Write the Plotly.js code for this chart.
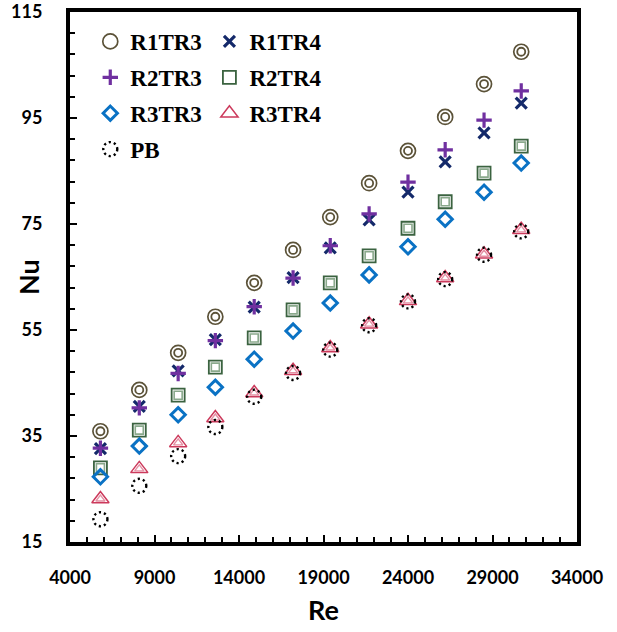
<!DOCTYPE html>
<html>
<head>
<meta charset="utf-8">
<script src="https://cdn.plot.ly/plotly-3.0.1.min.js"></script>
<style>html,body{margin:0;padding:0;background:#fff;}#chart{width:617px;height:632px;}</style>
</head>
<body>
<div id="chart"></div>
<script>
// Reynolds numbers (shared by all series)
const re = [5800, 8100, 10400, 12600, 14900, 17200, 19400, 21700, 24000, 26200, 28500, 30700];

// Nusselt numbers per configuration
const R1TR3 = [35.9, 43.7, 50.7, 57.5, 63.9, 70.1, 76.3, 82.7, 88.8, 95.2, 101.4, 107.5];
const R1TR4 = [32.6, 40.6, 47.3, 53.2, 59.3, 64.9, 70.5, 75.8, 81.0, 86.7, 92.2, 97.8];
const R2TR3 = [32.7, 40.3, 46.8, 53.0, 59.4, 64.8, 70.9, 76.9, 82.9, 89.0, 94.6, 100.1];
const R2TR4 = [29.0, 36.1, 42.7, 48.0, 53.5, 58.8, 63.9, 69.0, 74.2, 79.2, 84.6, 89.7];
const R3TR3 = [27.3, 33.1, 39.0, 44.2, 49.5, 54.8, 60.1, 65.4, 70.7, 75.9, 81.0, 86.5];
const R3TR4 = [23.1, 28.8, 33.7, 38.4, 43.1, 47.3, 51.6, 56.1, 60.5, 64.8, 69.3, 73.9];
const PB    = [19.3, 25.6, 31.2, 36.7, 42.4, 46.9, 51.3, 55.9, 60.4, 64.6, 69.2, 73.6];

const xTicks = [4000, 9000, 14000, 19000, 24000, 29000, 34000];
const yTicks = [15, 35, 55, 75, 95, 115];

function tr(name, y, symbol, color, size, lw, legend, group, extra) {
  return Object.assign({
    type: 'scatter', mode: 'markers', name: name, x: re, y: y,
    legend: legend, legendgroup: group,
    marker: {symbol: symbol, size: size, color: color, line: {color: color, width: lw}}
  }, extra || {});
}

const data = [
  tr('R1TR3', R1TR3, 'circle-open', '#5b5238', 15, 1.7, 'legend', 'g1'),
  tr('R1TR3 inner', R1TR3, 'circle-open', '#5b5238', 8, 1.8, 'legend', 'g1', {showlegend: false}),
  tr('R1TR4', R1TR4, 'x-thin-open', '#14296a', 11, 3.2, 'legend2', 'g2'),
  tr('R2TR3', R2TR3, 'cross-thin-open', '#7030a0', 11, 3.2, 'legend', 'g3'),
  tr('R2TR4', R2TR4, 'square-open', '#3b6340', 13, 1.8, 'legend2', 'g4'),
  tr('R2TR4 inner', R2TR4, 'square-open', '#8aa98c', 8, 1.6, 'legend2', 'g4', {showlegend: false}),
  tr('R3TR3', R3TR3, 'diamond-open', '#0a72c4', 11, 3, 'legend', 'g5'),
  tr('R3TR4', R3TR4, 'triangle-up-open', '#cc3a5c', 15, 1.5, 'legend2', 'g6'),
  tr('R3TR4 inner', R3TR4, 'triangle-up-open', '#e590a4', 8, 1.4, 'legend2', 'g6', {showlegend: false}),
  tr('PB', PB, 'circle-open', '#000000', 14, 2.4, 'legend', 'g7')
];

const tickFont = {family: 'Lato, sans-serif', size: 18, color: '#000', weight: 'bold'};
const legFont = {family: 'Liberation Serif, Times New Roman, serif', size: 23, color: '#000', weight: 'bold'};
const titleFont = {family: 'Lato, sans-serif', size: 27, color: '#000', weight: 'bold'};

const layout = {
  width: 617, height: 632,
  margin: {l: 70, r: 40, t: 12, b: 90},
  paper_bgcolor: '#fff', plot_bgcolor: '#fff',
  xaxis: {
    range: [4000, 34000], tickmode: 'array', tickvals: xTicks, ticktext: xTicks.map(String),
    showgrid: false, zeroline: false,
    showline: true, linewidth: 4, linecolor: '#000', mirror: true,
    ticks: 'inside', ticklen: 7, tickwidth: 2, tickcolor: '#000',
    minor: {dtick: 1000, tick0: 4000, ticks: 'inside', ticklen: 5, tickwidth: 2, tickcolor: '#000', showgrid: false},
    tickfont: tickFont, ticklabelstandoff: 16,
    title: {text: 'Re', font: titleFont, standoff: 16}
  },
  yaxis: {
    range: [15, 115], tickmode: 'array', tickvals: yTicks, ticktext: yTicks.map(String),
    showgrid: false, zeroline: false,
    showline: true, linewidth: 4, linecolor: '#000', mirror: true,
    ticks: 'inside', ticklen: 7, tickwidth: 2, tickcolor: '#000',
    minor: {dtick: 4, tick0: 15, ticks: 'inside', ticklen: 5, tickwidth: 2, tickcolor: '#000', showgrid: false},
    tickfont: tickFont, ticklabelstandoff: 20
  },
  annotations: [{
    text: 'Nu', xref: 'paper', yref: 'paper', x: 0, y: 0.5, xanchor: 'center', yanchor: 'middle',
    xshift: -42, textangle: -90, showarrow: false, font: titleFont
  }],
  legend: {
    x: 0.04, y: 0.985, xanchor: 'left', yanchor: 'top',
    bgcolor: 'rgba(0,0,0,0)', borderwidth: 0, font: legFont,
    traceorder: 'grouped', tracegroupgap: 3, itemwidth: 30
  },
  legend2: {
    x: 0.275, y: 0.985, xanchor: 'left', yanchor: 'top',
    bgcolor: 'rgba(0,0,0,0)', borderwidth: 0, font: legFont,
    traceorder: 'grouped', tracegroupgap: 3, itemwidth: 30
  },
  showlegend: true
};

Plotly.newPlot('chart', data, layout, {displayModeBar: false, staticPlot: true}).then(function (gd) {
  // dotted outline for the PB markers (data and legend)
  const idx = data.findIndex(d => d.name === 'PB');
  const traces = gd.querySelectorAll('.scatterlayer .trace');
  if (traces[idx]) traces[idx].querySelectorAll('path.point').forEach(p => { p.style.strokeDasharray = '2.2,3'; });
  gd.querySelectorAll('.legend .traces').forEach(t => {
    const txt = t.querySelector('.legendtext');
    if (txt && txt.textContent === 'PB') t.querySelectorAll('path.scatterpts').forEach(p => { p.style.strokeDasharray = '2.2,3'; });
  });
});
</script>
</body>
</html>
